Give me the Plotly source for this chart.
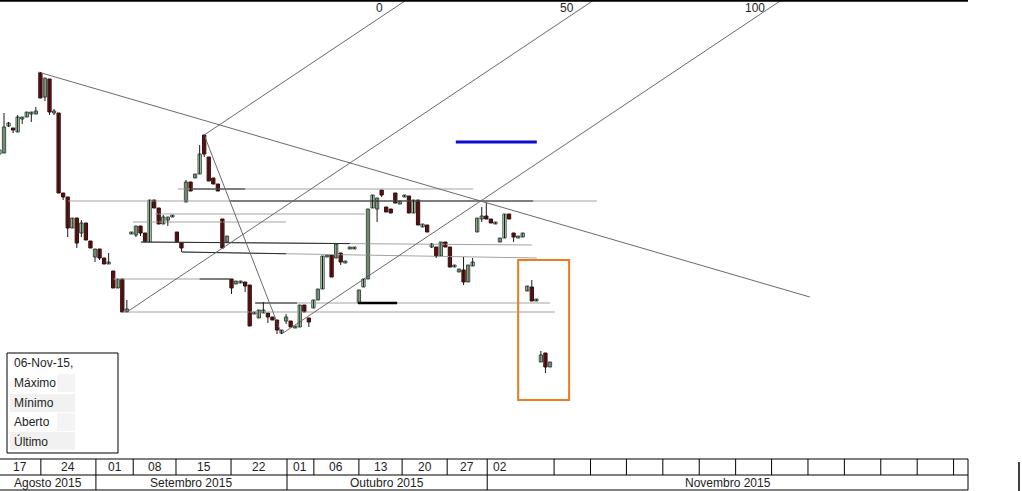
import plotly.graph_objects as go

# ---------------- data ----------------
opens = [3.46, 3.47, 3.74, 3.72, 3.68, 3.81, 3.83, 3.86, 3.86, 4.27, 4.03, 4.21, 3.87, 3.87, 3.07, 3.03,
         2.72, 2.82, 2.67, 2.77, 2.59, 2.43, 2.51, 2.42, 2.36, 2.29, 2.12, 2.21, 1.88, 2.66, 2.65, 2.74,
         2.67, 2.58, 3.00, 2.92, 2.76, 2.80, 2.83, 2.68, 2.57, 2.98, 3.18, 3.22, 3.26, 3.65, 3.43, 3.22,
         3.16, 2.81, 2.58, 2.21, 2.16, 2.17, 2.18, 2.15, 1.86, 1.82, 1.87, 1.87, 1.83, 1.80, 1.67, 1.79,
         1.79, 1.72, 1.73, 1.95, 1.82, 1.92, 2.00, 2.11, 2.43, 2.45, 2.42, 2.47, 2.37, 2.51, 2.51, 1.97,
         2.13, 2.21, 2.92, 2.91, 3.10, 2.93, 2.91, 3.07, 2.96, 3.03, 3.04, 2.87, 3.00, 2.73, 2.75, 2.53,
         2.53, 2.44, 2.58, 2.53, 2.33, 2.28, 2.30, 2.18, 2.34, 2.68, 2.81, 2.84, 2.81, 2.76, 2.58, 2.62,
         2.86, 2.67, 2.62, 2.63, 2.09, 2.13, 1.99, 1.38, 1.47, 1.33]
highs = [3.74, 3.87, 3.78, 3.72, 3.85, 3.83, 3.88, 3.88, 3.93, 4.28, 4.22, 4.21, 3.91, 3.87, 3.07, 3.03,
         2.82, 2.82, 2.80, 2.77, 2.59, 2.51, 2.51, 2.42, 2.47, 2.29, 2.21, 2.21, 2.00, 2.68, 2.74, 2.74,
         2.67, 3.00, 3.00, 2.92, 2.85, 2.83, 2.85, 2.68, 2.57, 3.20, 3.18, 3.26, 3.55, 3.65, 3.43, 3.22,
         3.16, 2.81, 2.64, 2.21, 2.19, 2.19, 2.18, 2.15, 1.88, 1.90, 1.98, 1.87, 1.83, 1.80, 1.70, 1.86,
         1.79, 1.74, 1.95, 1.95, 1.82, 2.00, 2.11, 2.44, 2.45, 2.45, 2.56, 2.47, 2.39, 2.53, 2.53, 2.10,
         2.21, 2.91, 3.05, 3.02, 3.10, 2.93, 2.91, 3.07, 2.99, 3.05, 3.04, 3.00, 3.00, 2.76, 2.75, 2.57,
         2.53, 2.58, 2.58, 2.53, 2.35, 2.31, 2.43, 2.35, 2.42, 2.82, 2.93, 2.97, 2.81, 2.78, 2.62, 2.86,
         2.86, 2.67, 2.64, 2.67, 2.14, 2.20, 2.01, 1.49, 1.47, 1.38]
lows = [3.45, 3.47, 3.73, 3.67, 3.68, 3.76, 3.83, 3.78, 3.86, 4.02, 3.99, 3.85, 3.85, 3.07, 3.00, 2.63,
        2.72, 2.52, 2.63, 2.60, 2.52, 2.38, 2.40, 2.36, 2.36, 2.12, 2.12, 1.88, 1.88, 2.66, 2.63, 2.64,
        2.58, 2.58, 2.92, 2.76, 2.76, 2.74, 2.83, 2.58, 2.48, 2.98, 3.09, 3.22, 3.26, 3.43, 3.19, 3.16,
        3.09, 2.52, 2.58, 2.06, 2.16, 2.17, 2.08, 1.74, 1.86, 1.82, 1.87, 1.77, 1.80, 1.66, 1.66, 1.76,
        1.73, 1.72, 1.73, 1.88, 1.73, 1.92, 2.00, 2.11, 2.43, 2.23, 2.42, 2.35, 2.37, 2.51, 2.51, 1.97,
        2.13, 2.21, 2.92, 2.78, 3.03, 2.88, 2.87, 2.97, 2.96, 3.03, 2.87, 2.87, 2.75, 2.73, 2.68, 2.52,
        2.42, 2.44, 2.53, 2.33, 2.33, 2.28, 2.15, 2.18, 2.34, 2.68, 2.78, 2.81, 2.77, 2.76, 2.58, 2.62,
        2.81, 2.58, 2.62, 2.63, 2.09, 1.99, 1.99, 1.38, 1.27, 1.33]
closes = [3.50, 3.73, 3.77, 3.70, 3.83, 3.83, 3.88, 3.88, 3.89, 4.02, 4.22, 3.88, 3.89, 3.07, 3.03, 2.72,
          2.82, 2.57, 2.77, 2.60, 2.52, 2.51, 2.42, 2.36, 2.38, 2.12, 2.21, 1.88, 1.91, 2.68, 2.74, 2.67,
          2.58, 3.00, 2.92, 2.76, 2.83, 2.83, 2.85, 2.58, 2.52, 3.18, 3.09, 3.26, 3.46, 3.46, 3.19, 3.16,
          3.09, 2.52, 2.64, 2.12, 2.19, 2.19, 2.14, 1.74, 1.88, 1.90, 1.90, 1.83, 1.80, 1.70, 1.70, 1.83,
          1.73, 1.74, 1.95, 1.88, 1.78, 2.00, 2.11, 2.44, 2.45, 2.23, 2.56, 2.38, 2.39, 2.53, 2.53, 2.10,
          2.21, 2.91, 3.05, 3.02, 3.05, 2.88, 2.87, 2.97, 2.99, 3.05, 2.87, 3.00, 2.75, 2.76, 2.68, 2.56,
          2.44, 2.58, 2.53, 2.33, 2.35, 2.31, 2.18, 2.35, 2.38, 2.82, 2.84, 2.81, 2.77, 2.78, 2.62, 2.86,
          2.81, 2.63, 2.64, 2.67, 2.14, 1.99, 2.01, 1.45, 1.33, 1.38]
first_slot = -1
slots = list(range(first_slot, first_slot + len(opens)))

week_labels = ["17", "24", "01", "08", "15", "22", "01", "06", "13", "20", "27", "02"]
week_bounds = [8.1, 20.2, 28.4, 37.8, 49.9, 62.2, 68.1, 78.0, 87.5, 97.4, 106.2, 120.9,
               128.9, 136.8, 144.8, 152.8, 160.8, 168.7, 176.7, 184.7, 192.7, 200.7, 208.7]
month_labels = ["Agosto 2015", "Setembro 2015", "Outubro 2015", "Novembro 2015"]
month_bounds = [20.2, 62.2, 106.2]

# Andrews pitchfork pivots (handle, upper, lower) and its level labels
fork_x = [27, 44, 61]
fork_y = [1.88, 3.65, 1.66]
fork_labels = ["50", "0", "100"]

trend_x = [7.5, 177.1]
trend_y = [4.28, 2.03]

# support / resistance lines: x0, x1, y0, y1
hlines_x0 = [38.2, 14.1, 33.2, 28.3, 30.1, 39.1, 24.0, 55.2, 26.0]
hlines_x1 = [103.1, 130.3, 79.3, 62.0, 116.0, 117.1, 49.7, 120.0, 121.1]
hlines_y0 = [3.11, 2.99, 2.86, 2.78, 2.58, 2.48, 2.21, 1.97, 1.88]
hlines_y1 = [3.11, 2.99, 2.86, 2.78, 2.55, 2.42, 2.21, 1.97, 1.88]
# darker stretches on some of them: line index, x0, x1
dark_idx = [0, 1, 4, 5, 6, 7]
dark_x0 = [40.9, 49.7, 30.1, 39.1, 43.0, 55.2]
dark_x1 = [53.0, 116.3, 76.0, 62.0, 49.7, 64.4]
thick_x = [77.8, 86.4]
thick_y = 1.97

target_x = [99.3, 117.1]
target_y = 3.58
box_x = [113.0, 124.2]
box_y = [1.00, 2.40]

info_labels = ["06-Nov-15,", "Máximo", "Mínimo", "Aberto", "Último"]

# ---------------- figure ----------------
X0, X1 = -0.88, 211.87
Y0, Y1 = 0.42, 5.0
PW, PH = 968, 458  # plot area in pixels


def sx(s):  # slot -> paper x
    return (s - X0) / (X1 - X0)


def pxx(p):  # pixel column -> paper x
    return p / PW


def pxy(p):  # pixel row -> paper y
    return (PH - p) / PH


FONT = "Liberation Sans"
GRAY = "#a3a3a3"
DARK = "#2a2a2a"
TOOL = "#6a6a6a"

fig = go.Figure()

# horizontal lines
for i in range(len(hlines_x0)):
    fig.add_trace(go.Scatter(x=[hlines_x0[i], hlines_x1[i]], y=[hlines_y0[i], hlines_y1[i]],
                             mode="lines", line=dict(color=GRAY, width=1), hoverinfo="skip"))
for j, i in enumerate(dark_idx):
    a, b = hlines_x0[i], hlines_x1[i]
    ya, yb = hlines_y0[i], hlines_y1[i]
    f = lambda x: ya + (yb - ya) * (x - a) / (b - a)
    fig.add_trace(go.Scatter(x=[dark_x0[j], dark_x1[j]], y=[f(dark_x0[j]), f(dark_x1[j])],
                             mode="lines", line=dict(color=DARK, width=1), hoverinfo="skip"))
fig.add_trace(go.Scatter(x=thick_x, y=[thick_y, thick_y], mode="lines",
                         line=dict(color="#000000", width=2.5), hoverinfo="skip"))

# trend line
fig.add_trace(go.Scatter(x=trend_x, y=trend_y, mode="lines",
                         line=dict(color=TOOL, width=1), hoverinfo="skip"))

# pitchfork
mx = (fork_x[1] + fork_x[2]) / 2
my = (fork_y[1] + fork_y[2]) / 2
k = (my - fork_y[0]) / (mx - fork_x[0])
fig.add_trace(go.Scatter(x=[fork_x[1], fork_x[2]], y=[fork_y[1], fork_y[2]], mode="lines",
                         line=dict(color=TOOL, width=1), hoverinfo="skip"))
label_ann = []
for xs, ys, lab in zip(fork_x, fork_y, fork_labels):
    xe = xs + (Y1 + 0.3 - ys) / k
    fig.add_trace(go.Scatter(x=[xs, xe], y=[ys, Y1 + 0.3], mode="lines",
                             line=dict(color=TOOL, width=1), hoverinfo="skip"))
    xtop = xs + (Y1 - ys) / k
    label_ann.append(dict(x=sx(xtop) - pxx(27), y=pxy(8), xref="paper", yref="paper",
                          text=lab, showarrow=False, xanchor="center", yanchor="middle",
                          font=dict(family=FONT, size=12, color="#222")))

# blue target segment
fig.add_trace(go.Scatter(x=target_x, y=[target_y, target_y], mode="lines",
                         line=dict(color="#0a0ad0", width=3), hoverinfo="skip"))

# candles: wicks + bodies
wx, wy = [], []
for s, h, l in zip(slots, highs, lows):
    wx += [s, s, None]
    wy += [l, h, None]
fig.add_trace(go.Scatter(x=wx, y=wy, mode="lines", line=dict(color="#1a1a1a", width=1),
                         hoverinfo="skip"))
up = [i for i in range(len(opens)) if closes[i] >= opens[i]]
dn = [i for i in range(len(opens)) if closes[i] < opens[i]]
fig.add_trace(go.Bar(x=[slots[i] for i in up], base=[opens[i] for i in up],
                     y=[max(closes[i] - opens[i], 0.015) for i in up], width=0.72,
                     marker=dict(color="#d6eed6", line=dict(color="#34503a", width=1)),
                     hoverinfo="skip"))
fig.add_trace(go.Bar(x=[slots[i] for i in dn], base=[closes[i] for i in dn],
                     y=[opens[i] - closes[i] for i in dn], width=0.72,
                     marker=dict(color="#7c1515", line=dict(color="#3a0707", width=1)),
                     hoverinfo="skip"))

shapes = []
# orange box
shapes.append(dict(type="rect", xref="x", yref="y", x0=box_x[0], x1=box_x[1], y0=box_y[0], y1=box_y[1],
                   line=dict(color="#f07a20", width=2), fillcolor="rgba(0,0,0,0)"))
# top border
shapes.append(dict(type="line", xref="paper", yref="paper", x0=0, x1=1, y0=pxy(0.8), y1=pxy(0.8),
                   line=dict(color="#000", width=2)))

# date table
r_top, r_mid, r_bot = pxy(459), pxy(475), pxy(490)
for yy in (r_top, r_mid, r_bot):
    shapes.append(dict(type="line", xref="paper", yref="paper", x0=0, x1=1, y0=yy, y1=yy,
                       line=dict(color="#000", width=1)))
for b in week_bounds + [X1]:
    xp = min(sx(b), 1.0)
    shapes.append(dict(type="line", xref="paper", yref="paper", x0=xp, x1=xp, y0=r_top, y1=r_mid,
                       line=dict(color="#000", width=1)))
for b in month_bounds + [X1]:
    xp = min(sx(b), 1.0)
    shapes.append(dict(type="line", xref="paper", yref="paper", x0=xp, x1=xp, y0=r_mid, y1=r_bot,
                       line=dict(color="#000", width=1)))
shapes.append(dict(type="line", xref="paper", yref="paper", x0=pxx(1019), x1=pxx(1019),
                   y0=pxy(462), y1=pxy(491), line=dict(color="#000", width=1.5)))

annotations = list(label_ann)
wb = [X0] + week_bounds
for i, lab in enumerate(week_labels):
    last = i == len(week_labels) - 1
    xc = sx(wb[i]) + pxx(4) if last else (sx(wb[i]) + sx(wb[i + 1])) / 2
    annotations.append(dict(x=xc, y=(r_top + r_mid) / 2, xref="paper", yref="paper", text=lab,
                            showarrow=False, xanchor="left" if last else "center", yanchor="middle",
                            font=dict(family=FONT, size=12, color="#222")))
mb = [X0] + month_bounds + [X1]
for i, lab in enumerate(month_labels):
    xc = (sx(mb[i]) + sx(mb[i + 1])) / 2
    annotations.append(dict(x=xc, y=(r_mid + r_bot) / 2, xref="paper", yref="paper", text=lab,
                            showarrow=False, xanchor="center", yanchor="middle",
                            font=dict(family=FONT, size=12, color="#222")))

# info box
row_y = [363, 383, 403, 422, 441]
for i in (2, 4):
    shapes.append(dict(type="rect", xref="paper", yref="paper", x0=pxx(10), x1=pxx(75),
                       y0=pxy(row_y[i] - 9), y1=pxy(row_y[i] + 9), line=dict(width=0),
                       fillcolor="#f1f1f1", layer="below"))
for i in (1, 3):
    shapes.append(dict(type="rect", xref="paper", yref="paper", x0=pxx(57), x1=pxx(75),
                       y0=pxy(row_y[i] - 9), y1=pxy(row_y[i] + 9), line=dict(width=0),
                       fillcolor="#f4f4f4", layer="below"))
shapes.append(dict(type="rect", xref="paper", yref="paper", x0=pxx(7), x1=pxx(118),
                   y0=pxy(353), y1=pxy(453), line=dict(color="#000", width=1),
                   fillcolor="rgba(0,0,0,0)"))
for lab, yy in zip(info_labels, row_y):
    annotations.append(dict(x=pxx(12), y=pxy(yy), xref="paper", yref="paper", text=lab,
                            showarrow=False, xanchor="left", yanchor="middle",
                            font=dict(family=FONT, size=12, color="#222")))

fig.update_layout(
    width=1022, height=491, autosize=False,
    margin=dict(l=0, r=1022 - PW, t=0, b=491 - PH, pad=0),
    paper_bgcolor="white", plot_bgcolor="white", showlegend=False, barmode="overlay",
    xaxis=dict(range=[X0, X1], visible=False, fixedrange=True),
    yaxis=dict(range=[Y0, Y1], visible=False, fixedrange=True),
    shapes=shapes, annotations=annotations,
)

fig.write_html("out.html", config={"displayModeBar": False},
               post_script="document.body.style.margin='0px';document.body.style.overflow='hidden';")
